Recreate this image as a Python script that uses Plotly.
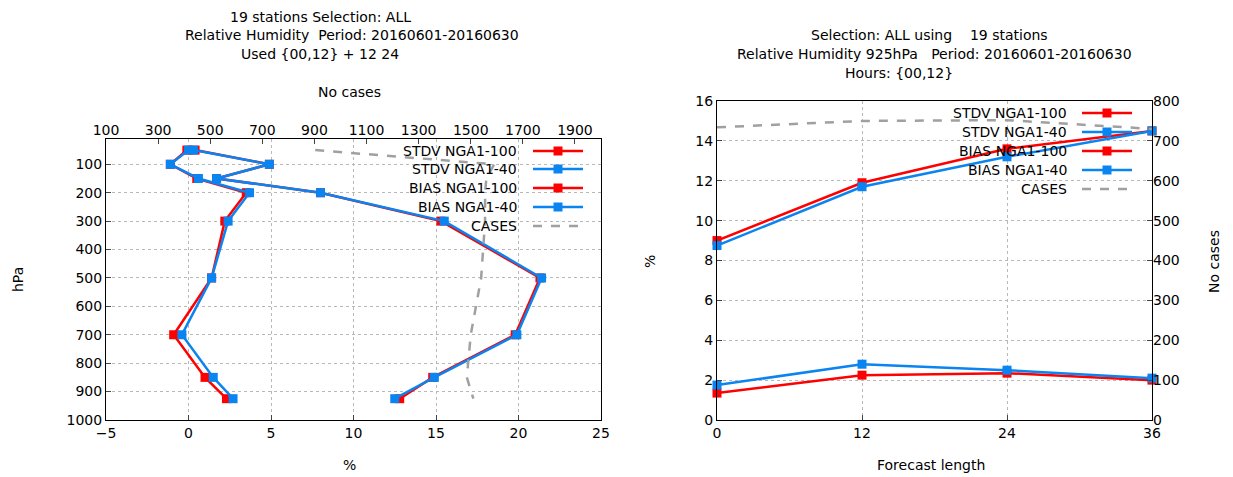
import plotly.graph_objects as go

W, H = 1233, 477
levels = [50, 100, 150, 200, 300, 500, 700, 850, 925]
stdv100_l = [0.4, 4.9, 1.7, 8.0, 15.3, 21.3, 19.8, 14.8, 12.8]
stdv40_l = [0.3, 4.9, 1.7, 8.0, 15.5, 21.4, 19.9, 14.9, 12.5]
bias100_l = [-0.1, -1.1, 0.5, 3.5, 2.2, 1.4, -0.9, 1.0, 2.3]
bias40_l = [0.0, -1.1, 0.6, 3.7, 2.4, 1.4, -0.4, 1.5, 2.7]
cases_l = [903, 1590, 1560, 1555, 1555, 1540, 1500, 1485, 1510]

fc = [0, 12, 24, 36]
stdv100_r = [9.0, 11.9, 13.6, 14.5]
stdv40_r = [8.75, 11.7, 13.2, 14.5]
bias100_r = [1.35, 2.25, 2.35, 2.0]
bias40_r = [1.75, 2.8, 2.5, 2.1]
cases_r = [734, 750, 752, 730]

RED = "#ff0000"; BLUE = "#0a84f0"; GRAY = "#a0a0a0"
names = ["STDV NGA1-100", "STDV NGA1-40", "BIAS NGA1-100", "BIAS NGA1-40", "CASES"]
cols = [RED, BLUE, RED, BLUE, GRAY]

fig = go.Figure()
def ser(x, y, c, xa, ya, mk=True):
    fig.add_trace(go.Scatter(x=x, y=y, xaxis=xa, yaxis=ya, mode="lines+markers" if mk else "lines",
        line=dict(color=c, width=2.5, dash=None if mk else "dash"),
        marker=dict(symbol="square", size=9, color=c), showlegend=False, cliponaxis=False))

ser(cases_l, levels, GRAY, "x3", "y", False)
ser(stdv100_l, levels, RED, "x", "y"); ser(stdv40_l, levels, BLUE, "x", "y")
ser(bias100_l, levels, RED, "x", "y"); ser(bias40_l, levels, BLUE, "x", "y")
ser(fc, cases_r, GRAY, "x2", "y3", False)
ser(fc, stdv100_r, RED, "x2", "y2"); ser(fc, stdv40_r, BLUE, "x2", "y2")
ser(fc, bias100_r, RED, "x2", "y2"); ser(fc, bias40_r, BLUE, "x2", "y2")

F = dict(family="DejaVu Sans", size=14, color="black")
ax = dict(showline=True, linecolor="black", linewidth=1, mirror=True, ticks="inside", ticklen=5,
          gridcolor="#b8b8b8", griddash="dot", zeroline=False, tickfont=F, automargin=False)
ax2 = dict(showgrid=False, ticks="inside", ticklen=5, tickfont=F, zeroline=False, automargin=False)
DX, DY = 8, 8
px = lambda v: (v - DX) / W
py = lambda v: 1 - (v - DY) / H
fig.update_layout(
    width=W, height=H, margin=dict(l=0, r=0, t=0, b=0, autoexpand=False), plot_bgcolor="white", paper_bgcolor="white",
    font=F,
    xaxis=dict(ax, domain=[px(106), px(601)], range=[-5, 25], dtick=5, anchor="y"),
    yaxis=dict(ax, domain=[py(420), py(139)], range=[1000, 11], tickvals=list(range(100, 1001, 100)), anchor="x"),
    xaxis3=dict(ax2, domain=[px(106), px(601)], range=[100, 2000], tickvals=list(range(100, 2000, 200)),
                overlaying="x", side="top", anchor="y"),
    xaxis2=dict(ax, domain=[px(717), px(1152)], range=[0, 36], tickvals=fc, anchor="y2"),
    yaxis2=dict(ax, domain=[py(420), py(101)], range=[0, 16], dtick=2, anchor="x2"),
    yaxis3=dict(ax2, domain=[py(420), py(101)], range=[0, 800], dtick=100, overlaying="y2", side="right",
                anchor="x2"),
)
ann = []
def t(x, y, s, xa="center", **k):
    ann.append(dict(x=px(x), y=py(y), xref="paper", yref="paper", text=s, showarrow=False, font=F,
                    xanchor=xa, yanchor="middle", **k))
t(320, 17, "19 stations Selection: ALL"); t(352, 35, "Relative Humidity  Period: 20160601-20160630")
t(320, 54, "Used {00,12} + 12 24"); t(349, 92, "No cases")
t(929, 35, "Selection: ALL using    19 stations"); t(934, 54, "Relative Humidity 925hPa   Period: 20160601-20160630")
t(899, 73, "Hours: {00,12}")
t(349, 465, "%"); t(18, 280, "hPa", textangle=-90)
t(931, 465, "Forecast length"); t(650, 262, "%", textangle=-90); t(1214, 262, "No cases", textangle=-90)
shapes = []
for (xr, x0, x1, ys) in [(519, 533, 583, [151, 169, 188, 207, 226]), (1069, 1082, 1132, [113, 132, 151, 170, 189])]:
    for n, c, y in zip(names, cols, ys):
        t(xr, y, n, xa="right")
        shapes.append(dict(type="line", xref="paper", yref="paper", x0=px(x0), x1=px(x1), y0=py(y), y1=py(y),
                           line=dict(color=c, width=2.5, dash="dash" if n == "CASES" else "solid")))
        if n != "CASES":
            m = (x0 + x1) / 2
            shapes.append(dict(type="rect", xref="paper", yref="paper", x0=px(m - 4.5), x1=px(m + 4.5),
                               y0=py(y - 4.5), y1=py(y + 4.5), fillcolor=c, line=dict(width=0)))
fig.update_layout(annotations=ann, shapes=shapes)
fig.write_html("out.html")
